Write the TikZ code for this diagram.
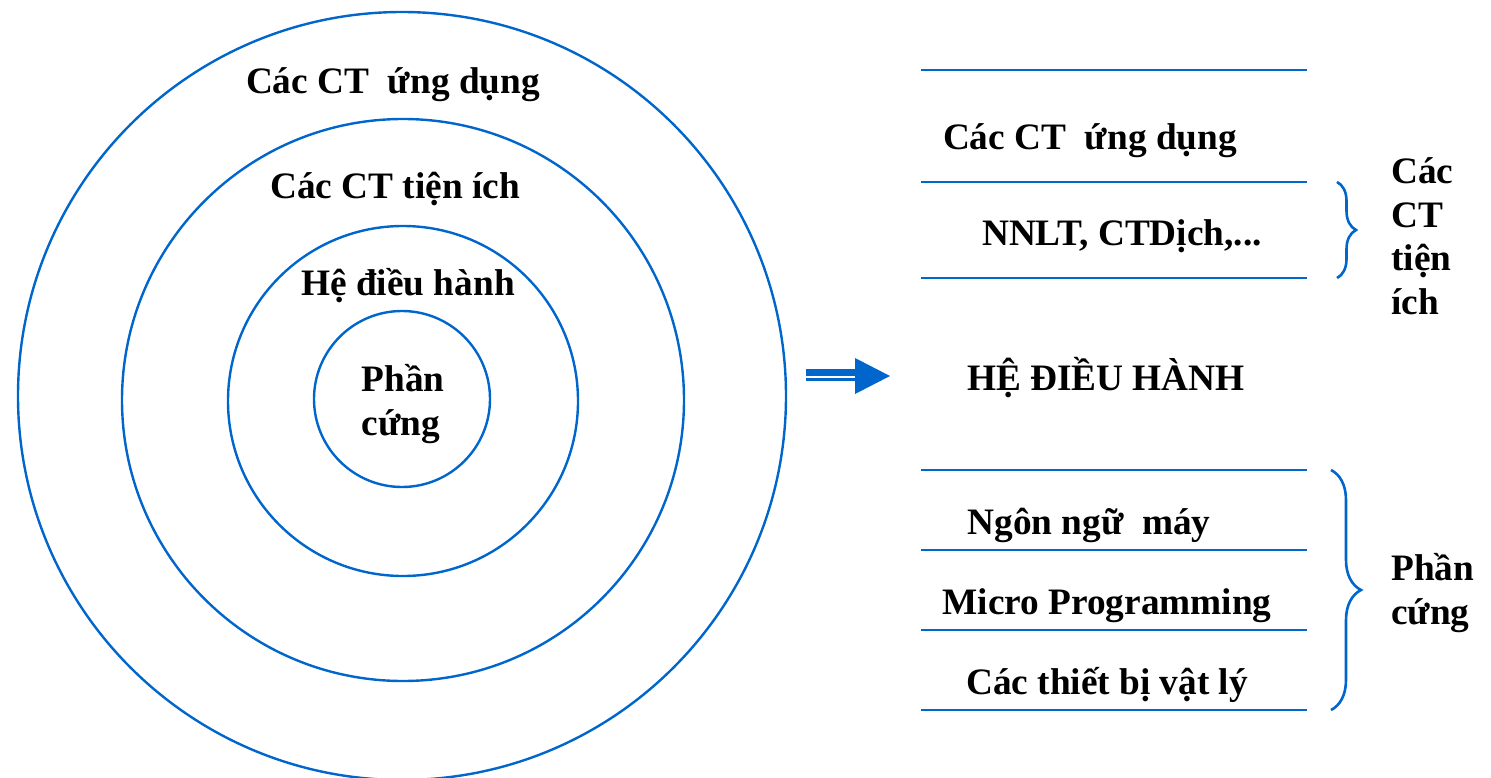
\documentclass[tikz,border=0pt]{standalone}
\usepackage{fontspec}
\setmainfont{Liberation Serif}
\usetikzlibrary{decorations.pathreplacing}
\definecolor{lineblue}{RGB}{0,102,204}
\tikzset{
  ring/.style={circle, draw=lineblue, line width=2.4pt, inner sep=0pt},
  lbl/.style={font=\bfseries\fontsize{37.3}{43.5}\selectfont, inner sep=0pt, anchor=base},
  layer/.style={draw=lineblue, line width=2.2pt},
  bracestyle/.style={draw=lineblue, line width=2.6pt, decorate}
}
\begin{document}
\begin{tikzpicture}[x=1pt,y=-1pt]
\useasboundingbox (0,0) rectangle (1491,778);
% concentric circles
\node[ring, minimum size=768pt] (c1) at (402,396) {};
\node[ring, minimum size=562pt] (c2) at (403,400) {};
\node[ring, minimum size=350pt] (c3) at (403,401) {};
\node[ring, minimum size=176pt] (c4) at (402,399) {};
\node[lbl] (t1) at (393,94) {Các CT\ \ ứng dụng};
\node[lbl] (t2) at (395,199) {Các CT tiện ích};
\node[lbl] (t3) at (408,295) {Hệ điều hành};
\node[lbl, align=left] (t4) at (403,435) {Phần\\cứng};
% arrow
\coordinate (at) at (890,376);
\fill[lineblue] (806,369) rectangle (855,375.5);
\fill[lineblue] (806,378) rectangle (855,380.5);
\fill[lineblue] (855,358) -- (at) -- (855,394) -- cycle;
% layer lines
\foreach \y/\n in {70/l1,182/l2,278/l3,470/l4,550/l5,630/l6,710/l7}{
  \coordinate (\n a) at (921,\y);
  \coordinate (\n b) at (1307,\y);
  \draw[layer] (\n a) -- (\n b);
}
\node[lbl] (r1) at (1090,150) {Các CT\ \ ứng dụng};
\node[lbl] (r2) at (1122,246) {NNLT, CTDịch,...};
\node[lbl] (r3) at (1106,390) {HỆ ĐIỀU HÀNH};
\node[lbl] (r4) at (1089,534) {Ngôn ngữ\ \ máy};
\node[lbl] (r5) at (1107,614) {Micro Programming};
\node[lbl] (r6) at (1107,694) {Các thiết bị vật lý};
% braces
\coordinate (b1t) at (1337,182);
\coordinate (b1b) at (1337,278);
\coordinate (b2t) at (1331,470);
\coordinate (b2b) at (1331,710);
\draw[bracestyle, decoration={brace, amplitude=19pt}] (b1t) -- (b1b);
\draw[bracestyle, decoration={brace, amplitude=30pt}] (b2t) -- (b2b);
\node[lbl, align=left, anchor=base west] (s1) at (1391,314) {Các\\CT\\tiện\\ích};
\node[lbl, align=left, anchor=base west] (s2) at (1391,624) {Phần\\cứng};
\end{tikzpicture}
\end{document}
